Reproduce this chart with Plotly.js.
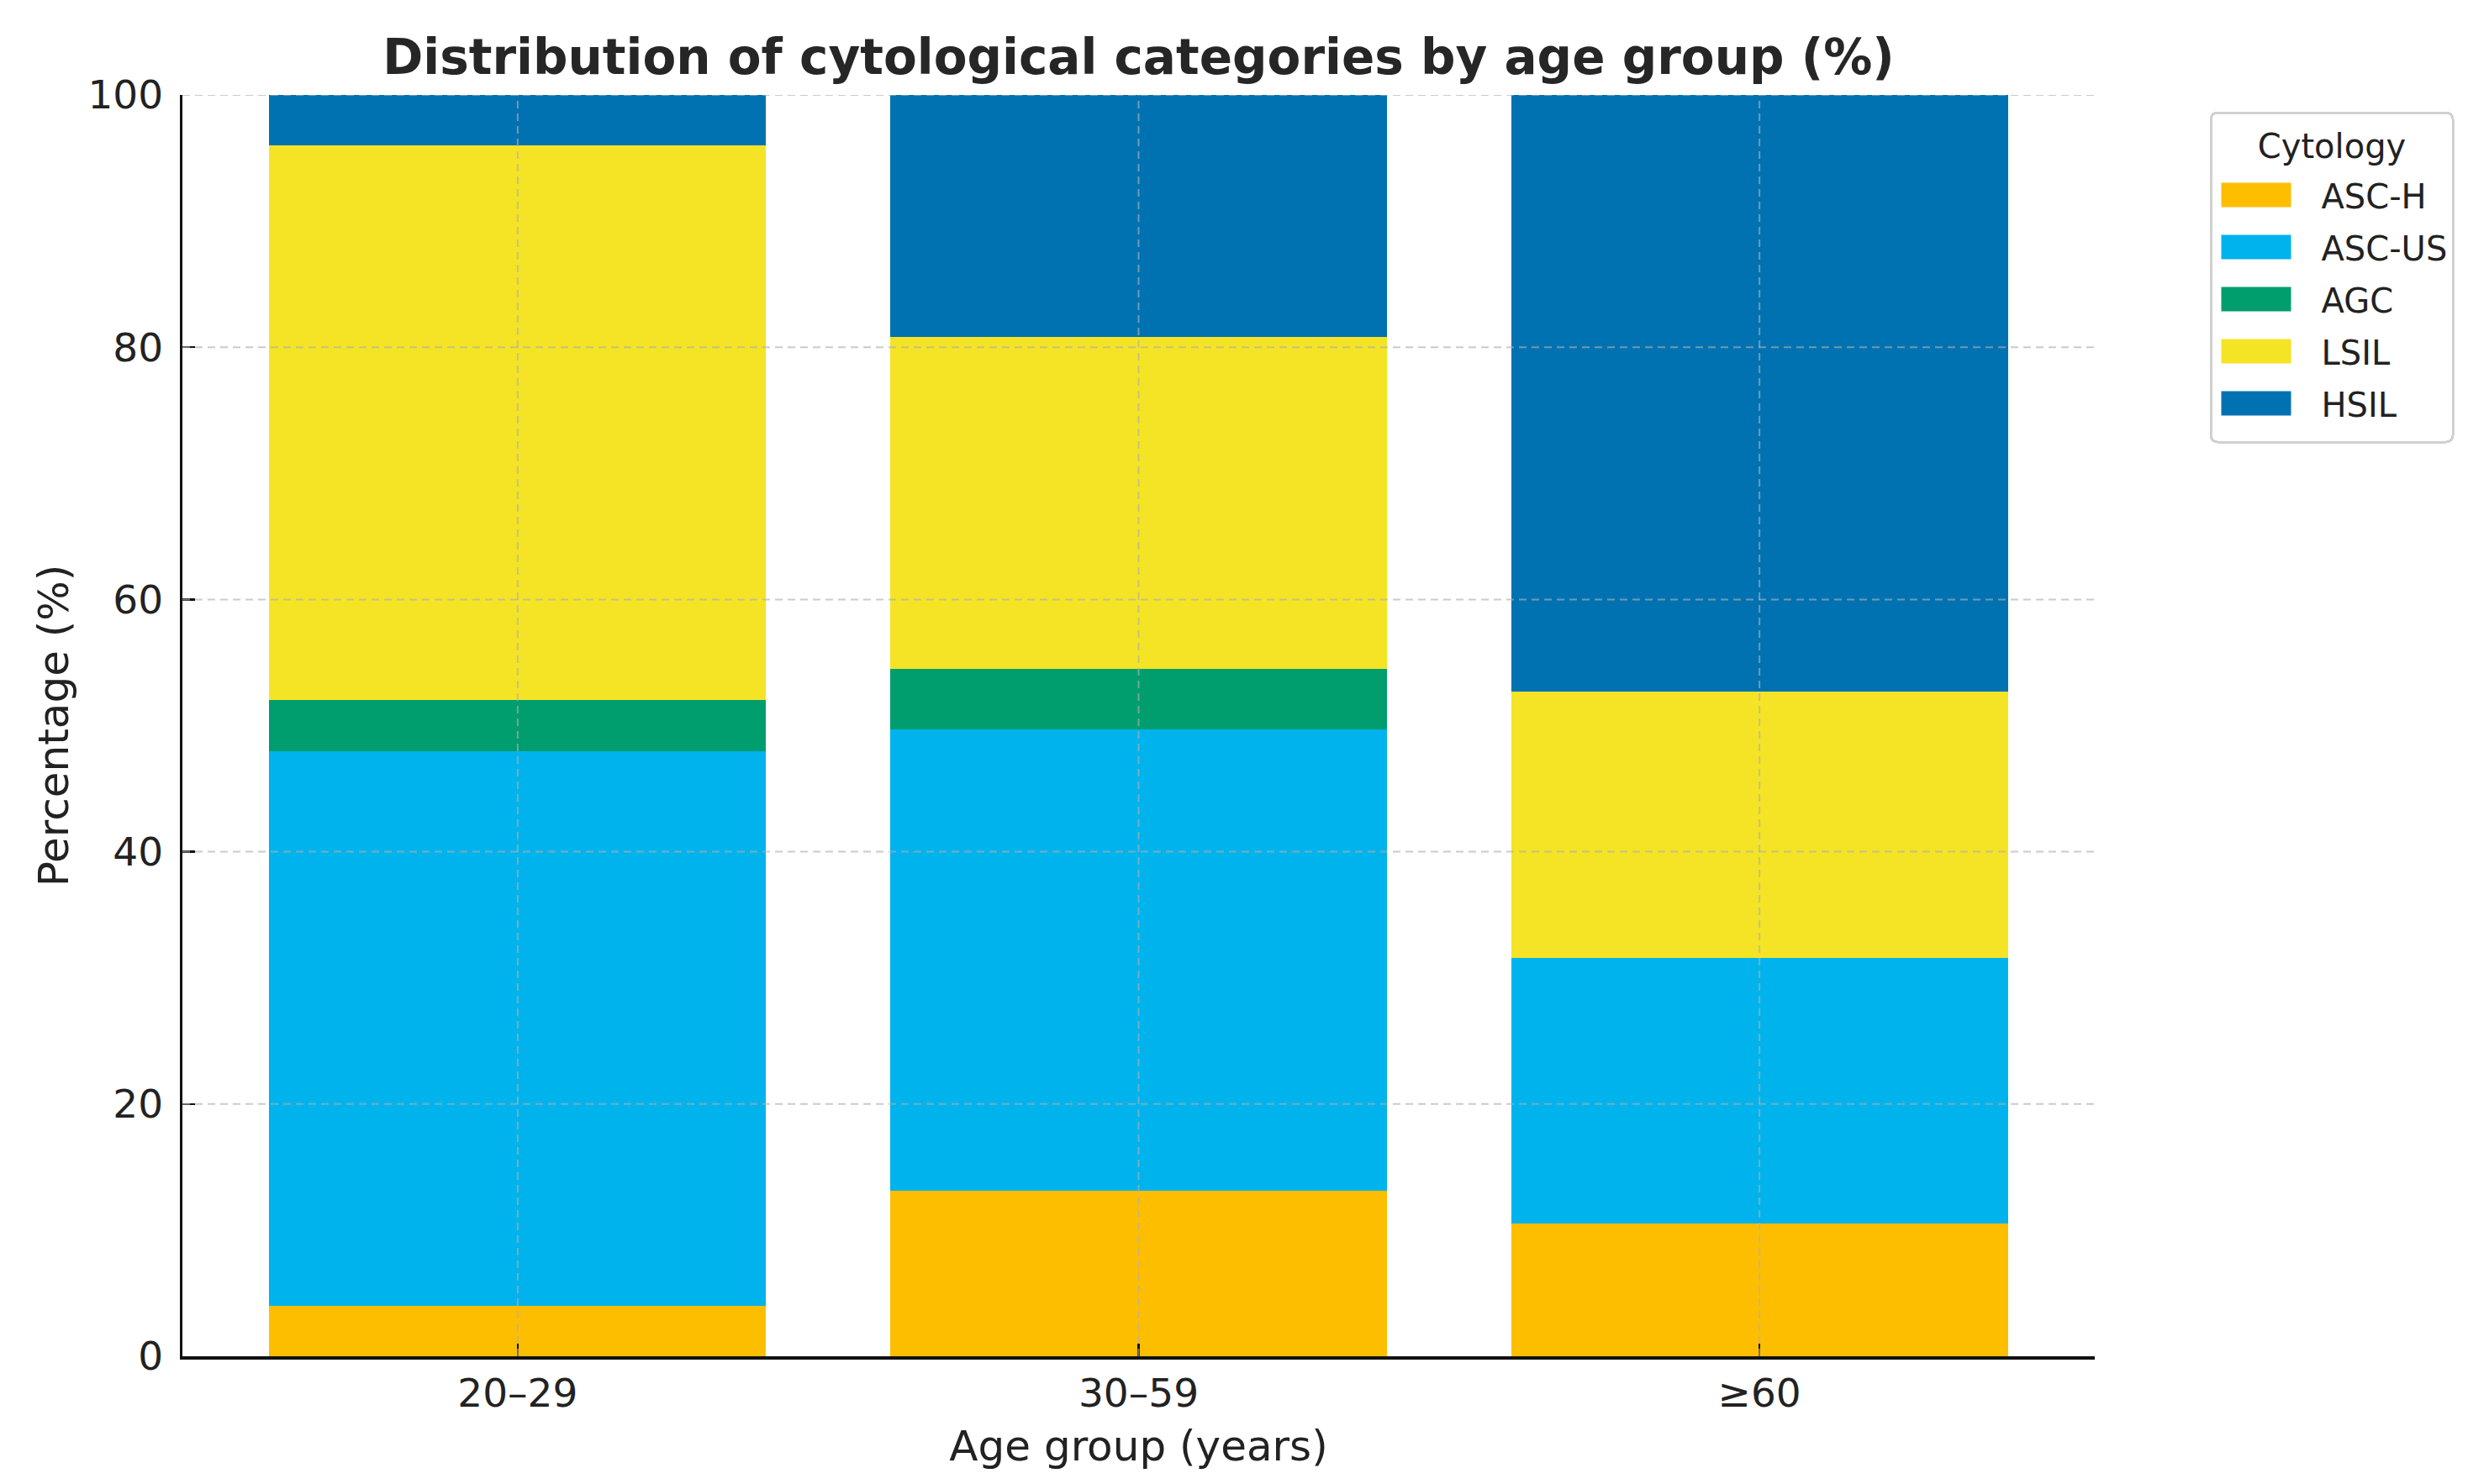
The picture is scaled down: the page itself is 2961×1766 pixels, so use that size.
<!DOCTYPE html>
<html>
<head>
<meta charset="utf-8">
<script src="https://cdn.plot.ly/plotly-3.0.1.min.js"></script>
<style>html,body{margin:0;padding:0;background:#fff;}#chart{width:2961px;height:1766px;}</style>
</head>
<body>
<div id="chart"></div>
<script>
const ageGroups = ["20–29", "30–59", "≥60"];
const seriesNames = ["ASC-H", "ASC-US", "AGC", "LSIL", "HSIL"];
const ascH  = [4.0, 13.1, 10.5];
const ascUS = [44.0, 36.6, 21.1];
const agc   = [4.0, 4.8, 0.0];
const lsil  = [44.0, 26.3, 21.1];
const hsil  = [4.0, 19.2, 47.3];
const yTicks = [0, 20, 40, 60, 80, 100];
const colors = ["#FEBE00", "#00B3EC", "#009E6E", "#F4E425", "#0072B2"];

const seriesValues = [ascH, ascUS, agc, lsil, hsil];
const font = "DejaVu Sans, Liberation Sans, sans-serif";

const traces = seriesNames.map((name, i) => ({
  type: "bar",
  name: name,
  x: ageGroups,
  y: seriesValues[i],
  legendgroup: name,
  marker: {color: colors[i], line: {width: 0}},
  hoverinfo: "x+y+name"
}));

const gridStyle = {color: "rgba(175,175,175,0.65)", width: 2, dash: "9px,6px"};
const shapes = [];
yTicks.forEach(v => {
  if (v === 0) return;
  shapes.push({type: "line", xref: "paper", yref: "y", x0: 0, x1: 1, y0: v, y1: v, layer: "above", line: gridStyle});
});
ageGroups.forEach(c => {
  shapes.push({type: "line", xref: "x", yref: "paper", x0: c, x1: c, y0: 0, y1: 1, layer: "above", line: gridStyle});
});

const layout = {
  width: 2961,
  height: 1766,
  paper_bgcolor: "#ffffff",
  plot_bgcolor: "#ffffff",
  barmode: "stack",
  bargap: 0.2,
  margin: {l: 217, r: 469, t: 113, b: 152, pad: 0},
  font: {family: font, color: "#222222", size: 47},
  title: {
    text: "<b>Distribution of cytological categories by age group (%)</b>",
    font: {family: font, size: 58, color: "#262626"},
    x: 0.5, xref: "paper", xanchor: "center",
    y: 1 - 68 / 1766, yref: "container", yanchor: "middle"
  },
  xaxis: {
    type: "category",
    range: [-0.54, 2.54],
    showgrid: false,
    zeroline: false,
    showline: true,
    linecolor: "#111111",
    linewidth: 3.5,
    ticks: "inside",
    ticklen: 15,
    tickwidth: 2.5,
    tickcolor: "#111111",
    tickfont: {family: font, size: 47, color: "#222222"},
    ticklabelstandoff: 0,
    automargin: false,
    title: {text: "Age group (years)", font: {family: font, size: 50, color: "#222222"}, standoff: 20}
  },
  yaxis: {
    range: [0, 100],
    tickvals: yTicks,
    ticktext: yTicks.map(String),
    showgrid: false,
    zeroline: false,
    showline: true,
    linecolor: "#111111",
    linewidth: 3.5,
    ticks: "inside",
    ticklen: 15,
    tickwidth: 2.5,
    tickcolor: "#111111",
    tickfont: {family: font, size: 47, color: "#222222"},
    ticklabelstandoff: 10,
    automargin: false,
    title: {text: "Percentage (%)", font: {family: font, size: 50, color: "#222222"}, standoff: 8}
  },
  legend: {
    x: 1.06, xanchor: "left",
    y: 0.979, yanchor: "top",
    traceorder: "grouped",
    tracegroupgap: 7,
    bgcolor: "#ffffff",
    bordercolor: "#d0d0d0",
    borderwidth: 3,
    font: {family: font, size: 40, color: "#222222"},
    title: {text: "Cytology", side: "top center", font: {family: font, size: 40, color: "#222222"}},
    itemwidth: 120
  },
  shapes: shapes,
  showlegend: true
};

const gd = document.getElementById("chart");
Plotly.newPlot(gd, traces, layout, {displayModeBar: false, staticPlot: true}).then(() => {
  try {
    const legend = gd.querySelector(".legend");
    if (!legend) return;
    // widen the legend swatches to matplotlib-style patches
    legend.querySelectorAll("g.traces").forEach(item => {
      const path = item.querySelector(".legendpoints path");
      const text = item.querySelector("text.legendtext");
      if (!path || !text) return;
      const bb = path.getBBox();
      const pr = path.getBoundingClientRect();
      const tr = text.getBoundingClientRect();
      const cxLocal = bb.x + bb.width / 2;
      const cyLocal = bb.y + bb.height / 2;
      const cxScreen = pr.left + pr.width / 2;
      const right = cxLocal + (tr.left - 36 - cxScreen);
      const left = right - 83;
      const top = cyLocal - 14.5, bottom = cyLocal + 14.5;
      path.setAttribute("d", `M${left},${top}H${right}V${bottom}H${left}Z`);
    });
    // extra breathing room between the title and the entries, as in the original
    const bg = legend.querySelector("rect.bg");
    const title = legend.querySelector("text.legendtitletext");
    const shift = 12;
    if (bg) {
      const y = parseFloat(bg.getAttribute("y") || "0");
      const h = parseFloat(bg.getAttribute("height") || "0");
      bg.setAttribute("y", y - shift);
      bg.setAttribute("height", h + 2 * shift);
      bg.setAttribute("rx", 8); bg.setAttribute("ry", 8);
    }
    if (title) {
      const prev = title.getAttribute("transform") || "";
      title.setAttribute("transform", `translate(0,${-shift}) ${prev}`);
    }
  } catch (e) { console.error(e); }
});
</script>
</body>
</html>
